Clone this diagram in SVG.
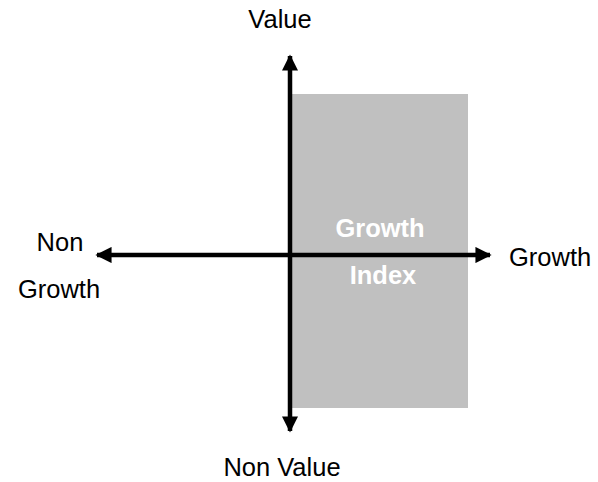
<svg xmlns="http://www.w3.org/2000/svg" width="598" height="482" viewBox="0 0 598 482">
<style>
text{font-family:"Liberation Sans",Arial,sans-serif;font-size:25.5px;fill:#000}
.w{fill:#fff;font-weight:bold}
.ax{stroke:#000;stroke-width:4.5;fill:none}
</style>
<defs>
<marker id="ah" viewBox="0 0 10 10" refX="9" refY="5" markerWidth="3.6" markerHeight="3.6" markerUnits="strokeWidth" orient="auto">
<path d="M0,0L10,5L0,10z" fill="#000"/>
</marker>
</defs>
<rect width="598" height="482" fill="#fff"/>
<g id="box">
<rect x="291" y="94" width="177" height="314" fill="#c0c0c0"/>
<text class="w" x="380" y="237" text-anchor="middle">Growth</text>
<text class="w" x="383" y="284" text-anchor="middle">Index</text>
</g>
<g id="connectors">
<line class="ax" x1="290" y1="255" x2="290" y2="56" marker-end="url(#ah)"/>
<line class="ax" x1="290" y1="255" x2="290" y2="431" marker-end="url(#ah)"/>
<line class="ax" x1="290" y1="255" x2="97" y2="255" marker-end="url(#ah)"/>
<line class="ax" x1="290" y1="255" x2="490" y2="255" marker-end="url(#ah)"/>
</g>
<g id="labels">
<text x="280" y="28" text-anchor="middle">Value</text>
<text x="282" y="476" text-anchor="middle">Non Value</text>
<text x="60" y="251" text-anchor="middle">Non</text>
<text x="59" y="298" text-anchor="middle">Growth</text>
<text x="509" y="266">Growth</text>
</g>
</svg>
